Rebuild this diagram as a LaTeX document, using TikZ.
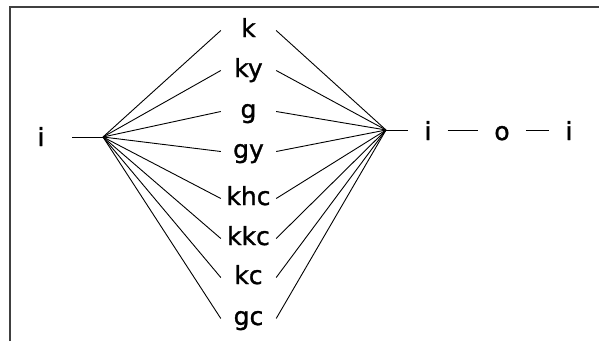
\documentclass[tikz,border=0pt]{standalone}
\usepackage{fontspec}
\setmainfont{DejaVu Sans}
\newfontfamily\lblfont{DejaVu Sans}[FakeBold=1.2]
\begin{document}
\begin{tikzpicture}[x=1pt,y=-1pt,
  txt/.style={font=\lblfont\fontsize{25}{29}\selectfont, anchor=base},
  lbl/.style={txt, inner sep=0pt, minimum width=55pt, text height=18pt, text depth=5pt},
  lefti/.style={txt, inner sep=0pt, minimum width=62pt, text height=18pt, text depth=0pt},
  side/.style={txt, inner ysep=0pt, inner xsep=16pt, text height=20pt, text depth=0pt},
  conn/.style={line width=0.9pt, black},
  frame/.style={line width=1.4pt, black!75}]
\useasboundingbox (0,0) rectangle (599,341);
% frame (top and left edges only)
\draw[frame] (10,341) -- (10,7) -- (599,7);
% hubs
\coordinate (hL) at (103,137);
\coordinate (hR) at (386,130);
% middle labels
\node[lbl] (k)   at (248.5,37)  {k};
\node[lbl] (ky)  at (248.5,77)  {ky};
\node[lbl] (g)   at (248.5,118) {g};
\node[lbl] (gy)  at (248.5,158) {gy};
\node[lbl] (khc) at (248.5,205) {khc};
\node[lbl] (kkc) at (248.5,245) {kkc};
\node[lbl] (kc)  at (248.5,284) {kc};
\node[lbl] (gc)  at (248.5,325) {gc};
% left i
\node[lefti] (iL) at (41,146) {i};
% right chain
\node[side] (i2) at (428,140) {i};
\node[side] (o)  at (502,140) {o};
\node[side] (i3) at (569,140) {i};
% connectors
\draw[conn] (iL.east) -- (hL);
\foreach \n in {k,ky,g,gy,khc,kkc,kc,gc}{
  \draw[conn] (hL) -- (\n.west);
  \draw[conn] (\n.east) -- (hR);
}
\draw[conn] (hR) -- (i2.west);
\draw[conn] (i2.east) -- (o.west);
\draw[conn] (o.east) -- (i3.west);
\end{tikzpicture}
\end{document}
